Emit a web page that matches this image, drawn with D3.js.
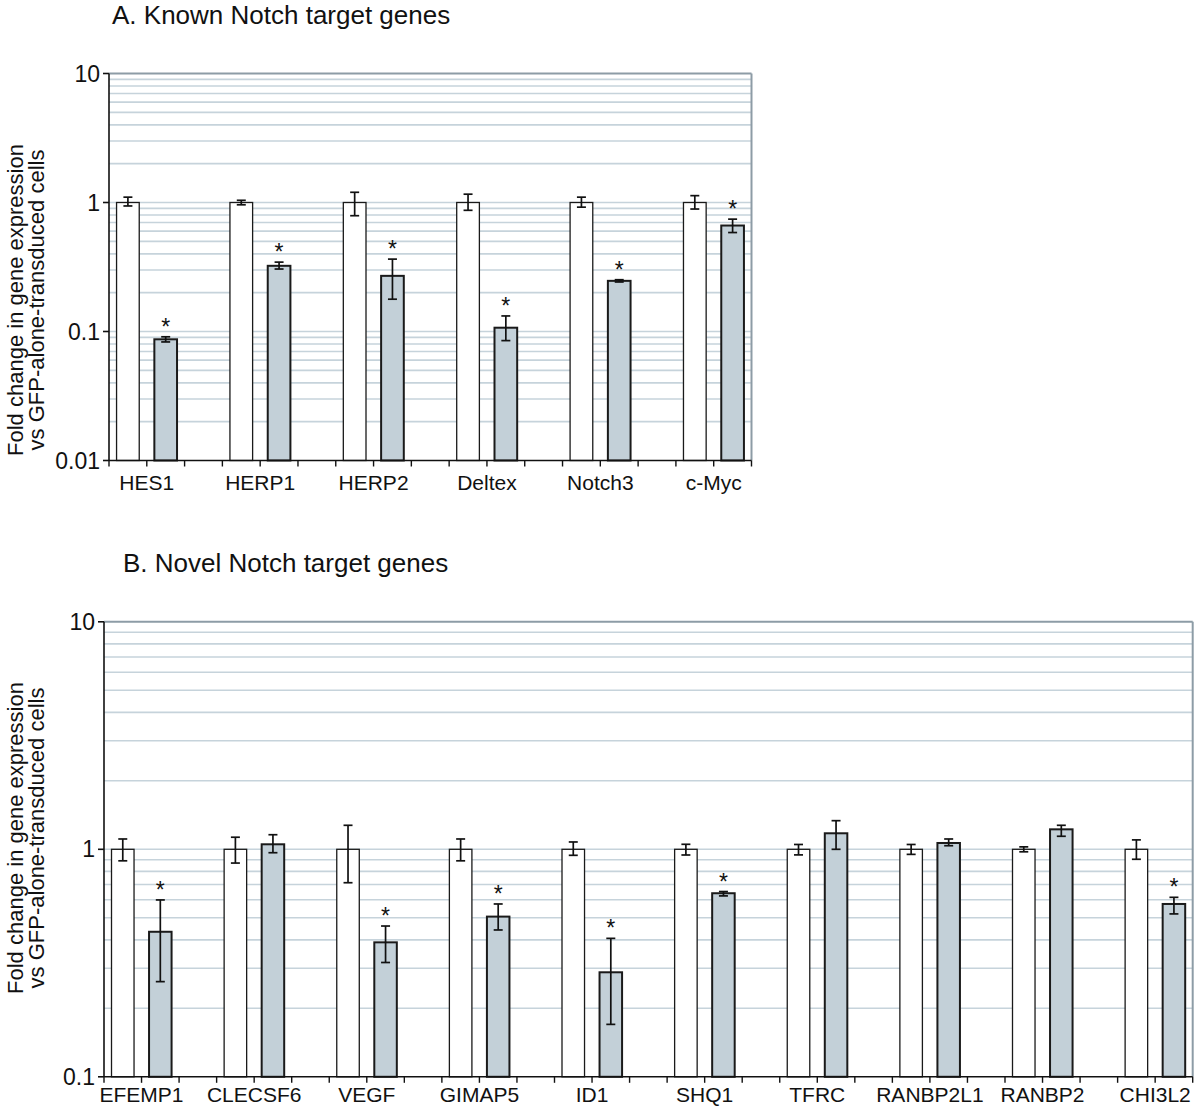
<!DOCTYPE html>
<html>
<head>
<meta charset="utf-8">
<script src="https://cdn.jsdelivr.net/npm/d3@7/dist/d3.min.js"></script>
<style>
  html, body { margin: 0; padding: 0; background: #ffffff; }
  svg { display: block; }
  text { font-family: "Liberation Sans", Arial, Helvetica, sans-serif; fill: #111; }
</style>
</head>
<body>
<svg id="chart" width="1200" height="1109"></svg>
<script>
// ---------------- DATA ----------------
// Panel A: known Notch target genes
const genesA = ["HES1", "HERP1", "HERP2", "Deltex", "Notch3", "c-Myc"];
const ctrlA = [1, 1, 1, 1, 1, 1];
const ctrlAHi = [1.10, 1.04, 1.20, 1.16, 1.10, 1.13];
const ctrlALo = [0.94, 0.96, 0.79, 0.87, 0.92, 0.89];
const notchA = [0.087, 0.323, 0.27, 0.107, 0.247, 0.663];
const notchAHi = [0.091, 0.345, 0.364, 0.132, 0.252, 0.743];
const notchALo = [0.083, 0.305, 0.178, 0.085, 0.242, 0.585];
const sigA = [true, true, true, true, true, true];
const yTicksA = [0.01, 0.1, 1, 10];
const yTickLabelsA = ["0.01", "0.1", "1", "10"];

// Panel B: novel Notch target genes
const genesB = ["EFEMP1", "CLECSF6", "VEGF", "GIMAP5", "ID1", "SHQ1", "TFRC", "RANBP2L1", "RANBP2", "CHI3L2"];
const ctrlB = [1, 1, 1, 1, 1, 1, 1, 1, 1, 1];
const ctrlBHi = [1.11, 1.13, 1.275, 1.11, 1.077, 1.052, 1.05, 1.05, 1.025, 1.10];
const ctrlBLo = [0.89, 0.87, 0.713, 0.89, 0.941, 0.944, 0.945, 0.95, 0.975, 0.904];
const notchB = [0.434, 1.052, 0.39, 0.506, 0.288, 0.641, 1.176, 1.066, 1.224, 0.575];
const notchBHi = [0.599, 1.159, 0.46, 0.575, 0.406, 0.652, 1.336, 1.11, 1.275, 0.615];
const notchBLo = [0.262, 0.966, 0.318, 0.442, 0.170, 0.624, 1.0, 1.037, 1.141, 0.52];
const sigB = [true, false, true, true, true, true, false, false, false, true];
const yTicksB = [0.1, 1, 10];
const yTickLabelsB = ["0.1", "1", "10"];

const titleA = "A. Known Notch target genes";
const titleB = "B. Novel Notch target genes";
const yTitle1 = "Fold change in gene expression";
const yTitle2 = "vs GFP-alone-transduced cells";

// ---------------- DRAWING ----------------
const svg = d3.select("#chart");
const GRID = "#c6d3db";
const FRAME = "#8d9ca6";
const BAR2 = "#c3d0d8";

function drawPanel(cfg) {
  const g = svg.append("g");
  const nG = cfg.genes.length;
  const nSlots = nG * 3 - 1;
  const slots = d3.range(nSlots);
  const x = d3.scaleBand().domain(slots).range([cfg.left, cfg.right]).paddingInner(0).paddingOuter(0);
  const y = d3.scaleLog().domain(cfg.yDomain).range([cfg.bottom, cfg.top]);
  const bw = x.bandwidth() * 0.6;

  // title
  g.append("text").attr("x", cfg.titleX).attr("y", cfg.titleY)
    .attr("font-size", 26).text(cfg.title);

  // minor/major gridlines
  const gridVals = [];
  const lo = Math.round(Math.log10(cfg.yDomain[0])), hi = Math.round(Math.log10(cfg.yDomain[1]));
  for (let e = lo; e < hi; e++) {
    for (let m = 1; m <= 9; m++) {
      const v = m * Math.pow(10, e);
      if (v > cfg.yDomain[0] * 1.0001) gridVals.push(v);
    }
  }
  g.append("g").selectAll("line").data(gridVals).join("line")
    .attr("x1", cfg.left).attr("x2", cfg.right)
    .attr("y1", d => y(d)).attr("y2", d => y(d))
    .attr("stroke", GRID).attr("stroke-width", 1.6);

  // frame top & right
  g.append("line").attr("x1", cfg.left).attr("x2", cfg.right).attr("y1", cfg.top).attr("y2", cfg.top)
    .attr("stroke", FRAME).attr("stroke-width", 2);
  g.append("line").attr("x1", cfg.right).attr("x2", cfg.right).attr("y1", cfg.top).attr("y2", cfg.bottom)
    .attr("stroke", FRAME).attr("stroke-width", 2);

  // bars
  const rows = cfg.genes.map((gname, i) => ({
    gname, i,
    c: cfg.ctrl[i], cHi: cfg.ctrlHi[i], cLo: cfg.ctrlLo[i],
    n: cfg.notch[i], nHi: cfg.notchHi[i], nLo: cfg.notchLo[i],
    sig: cfg.sig[i]
  }));
  const barData = [];
  rows.forEach(r => {
    barData.push({ slot: r.i * 3, v: r.c, hi: r.cHi, lo: r.cLo, fill: "#ffffff", sw: 1.3, sig: false });
    barData.push({ slot: r.i * 3 + 1, v: r.n, hi: r.nHi, lo: r.nLo, fill: BAR2, sw: 2, sig: r.sig });
  });
  const cx = d => x(d.slot) + x.bandwidth() / 2;
  g.append("g").selectAll("rect").data(barData).join("rect")
    .attr("x", d => cx(d) - bw / 2).attr("width", bw)
    .attr("y", d => y(d.v)).attr("height", d => cfg.bottom - y(d.v))
    .attr("fill", d => d.fill).attr("stroke", "#1a1a1a").attr("stroke-width", d => d.sw);

  // error bars
  const eb = g.append("g").attr("stroke", "#111").attr("stroke-width", 1.7);
  const cap = 4.5;
  barData.forEach(d => {
    eb.append("line").attr("x1", cx(d)).attr("x2", cx(d)).attr("y1", y(d.hi)).attr("y2", y(d.lo));
    eb.append("line").attr("x1", cx(d) - cap).attr("x2", cx(d) + cap).attr("y1", y(d.hi)).attr("y2", y(d.hi));
    eb.append("line").attr("x1", cx(d) - cap).attr("x2", cx(d) + cap).attr("y1", y(d.lo)).attr("y2", y(d.lo));
  });

  // significance stars
  g.append("g").selectAll("text").data(barData.filter(d => d.sig)).join("text")
    .attr("x", d => cx(d)).attr("y", d => y(d.hi) - 2)
    .attr("text-anchor", "middle").attr("font-size", 23).text("*");

  // axes lines
  g.append("line").attr("x1", cfg.left).attr("x2", cfg.left).attr("y1", cfg.top).attr("y2", cfg.bottom)
    .attr("stroke", "#111").attr("stroke-width", 1.6);
  g.append("line").attr("x1", cfg.left).attr("x2", cfg.right).attr("y1", cfg.bottom).attr("y2", cfg.bottom)
    .attr("stroke", "#111").attr("stroke-width", 1.6);

  // y ticks + labels
  const yt = g.append("g");
  cfg.yTicks.forEach((v, k) => {
    yt.append("line").attr("x1", cfg.left - 6).attr("x2", cfg.left).attr("y1", y(v)).attr("y2", y(v))
      .attr("stroke", "#111").attr("stroke-width", 1.6);
    yt.append("text").attr("x", cfg.left - 9).attr("y", y(v)).attr("dy", "0.35em")
      .attr("text-anchor", "end").attr("font-size", 23).text(cfg.yTickLabels[k]);
  });

  // x ticks at slot boundaries
  const bounds = slots.map(s => x(s)).concat([cfg.right]);
  g.append("g").selectAll("line").data(bounds).join("line")
    .attr("x1", d => d).attr("x2", d => d).attr("y1", cfg.bottom).attr("y2", cfg.bottom + 6)
    .attr("stroke", "#111").attr("stroke-width", 1.4);

  // x labels, centered between control and Notch bars
  g.append("g").selectAll("text").data(rows).join("text")
    .attr("x", r => x(r.i * 3 + 1)).attr("y", cfg.xLabelY)
    .attr("text-anchor", "middle").attr("font-size", 21).text(r => r.gname);

  // y title
  const yg = g.append("g").attr("transform", `translate(0,${cfg.yTitleCY}) rotate(-90)`);
  yg.append("text").attr("x", 0).attr("y", 23).attr("text-anchor", "middle").attr("font-size", 22).text(yTitle1);
  yg.append("text").attr("x", 0).attr("y", 44).attr("text-anchor", "middle").attr("font-size", 22).text(yTitle2);
}

drawPanel({
  genes: genesA, ctrl: ctrlA, ctrlHi: ctrlAHi, ctrlLo: ctrlALo,
  notch: notchA, notchHi: notchAHi, notchLo: notchALo, sig: sigA,
  yTicks: yTicksA, yTickLabels: yTickLabelsA, yDomain: [0.01, 10],
  left: 109, right: 751.5, top: 73.5, bottom: 460.5,
  title: titleA, titleX: 112, titleY: 24, xLabelY: 490, yTitleCY: 300
});

drawPanel({
  genes: genesB, ctrl: ctrlB, ctrlHi: ctrlBHi, ctrlLo: ctrlBLo,
  notch: notchB, notchHi: notchBHi, notchLo: notchBLo, sig: sigB,
  yTicks: yTicksB, yTickLabels: yTickLabelsB, yDomain: [0.1, 10],
  left: 104, right: 1192.7, top: 621.8, bottom: 1076.8,
  title: titleB, titleX: 123, titleY: 572, xLabelY: 1102, yTitleCY: 838
});
</script>
</body>
</html>
